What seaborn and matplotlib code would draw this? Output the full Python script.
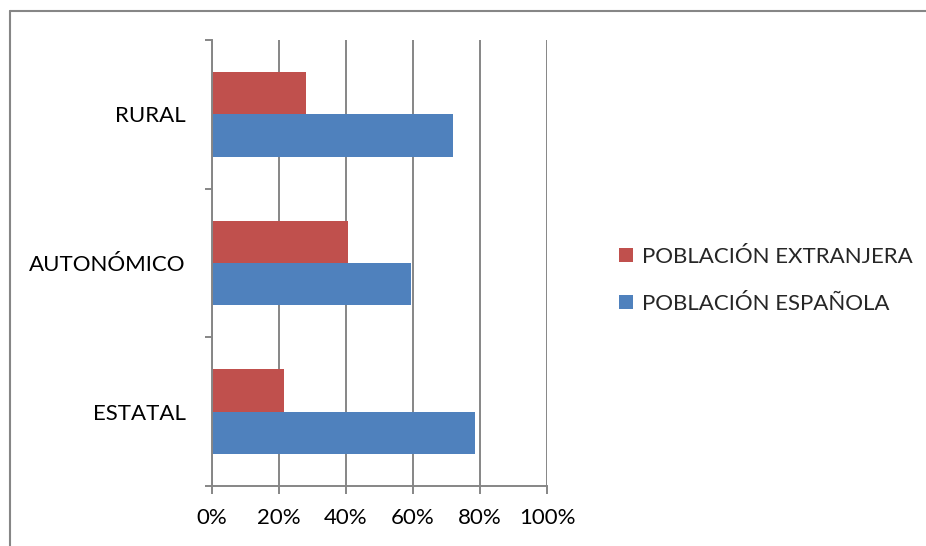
import pandas as pd
import seaborn as sns
import matplotlib.pyplot as plt
from matplotlib.lines import Line2D

ambitos = ['RURAL', 'AUTONÓMICO', 'ESTATAL']
extranjera = [28.0, 40.5, 21.4]
espanola = [72.0, 59.5, 78.6]
series = ['POBLACIÓN EXTRANJERA', 'POBLACIÓN ESPAÑOLA']
xticks = [0, 20, 40, 60, 80, 100]

df = pd.DataFrame({
    'ambito': ambitos * 2,
    'valor': extranjera + espanola,
    'poblacion': [series[0]] * 3 + [series[1]] * 3,
})

# ===
# plot
# ===

sns.set_style('white')
plt.rcParams['font.family'] = ['Lato', 'DejaVu Sans']
plt.rcParams['font.size'] = 16

W, H = 926, 546
fig = plt.figure(figsize=(W / 100, H / 100), dpi=100)
ax = fig.add_axes([212 / W, 1 - 486 / H, (547 - 212) / W, (486 - 40) / H])

grey = '#868686'
ax = sns.barplot(data=df, x='valor', y='ambito', hue='poblacion', order=ambitos,
                 hue_order=series, palette=['#C0504D', '#4F81BD'], orient='h',
                 width=0.57, saturation=1, linewidth=0, ax=ax)

ax.set_xlim(0, 100)
ax.set_ylim(2.5, -0.5)
ax.set_xticks(xticks)
ax.set_xticklabels(['{}%'.format(t) for t in xticks])
ax.set_xlabel('')
ax.set_ylabel('')

ax.set_axisbelow(True)
ax.grid(False)
ax.xaxis.grid(True, color=grey, linewidth=1.4)

for side in ['top', 'right']:
    ax.spines[side].set_visible(False)
for side in ['left', 'bottom']:
    ax.spines[side].set_color(grey)
    ax.spines[side].set_linewidth(1.4)

ax.set_yticks([-0.5, 0.5, 1.5, 2.5], minor=True)
ax.tick_params(axis='y', which='major', length=0, pad=19, labelcolor='black')
ax.tick_params(axis='y', which='minor', length=5, width=1.4, color=grey, left=True)
ax.tick_params(axis='x', which='major', length=6, width=1.4, color=grey, bottom=True,
               pad=10, labelcolor='black')

handles, labels = ax.get_legend_handles_labels()
ax.get_legend().remove()
ax.legend(handles, labels, loc='upper left', bbox_to_anchor=(619 / W, 1 - 247 / H),
          bbox_transform=fig.transFigure, frameon=False, borderpad=0, borderaxespad=0,
          handlelength=0.62, handleheight=0.62, handletextpad=0.4, labelspacing=1.2)

# outer chart border
fig.add_artist(Line2D([10 / W, 10 / W], [0, 1 - 11 / H], color=grey, linewidth=1.5))
fig.add_artist(Line2D([10 / W, 1], [1 - 11 / H, 1 - 11 / H], color=grey, linewidth=1.5))

fig.savefig('out.png', dpi=100)
